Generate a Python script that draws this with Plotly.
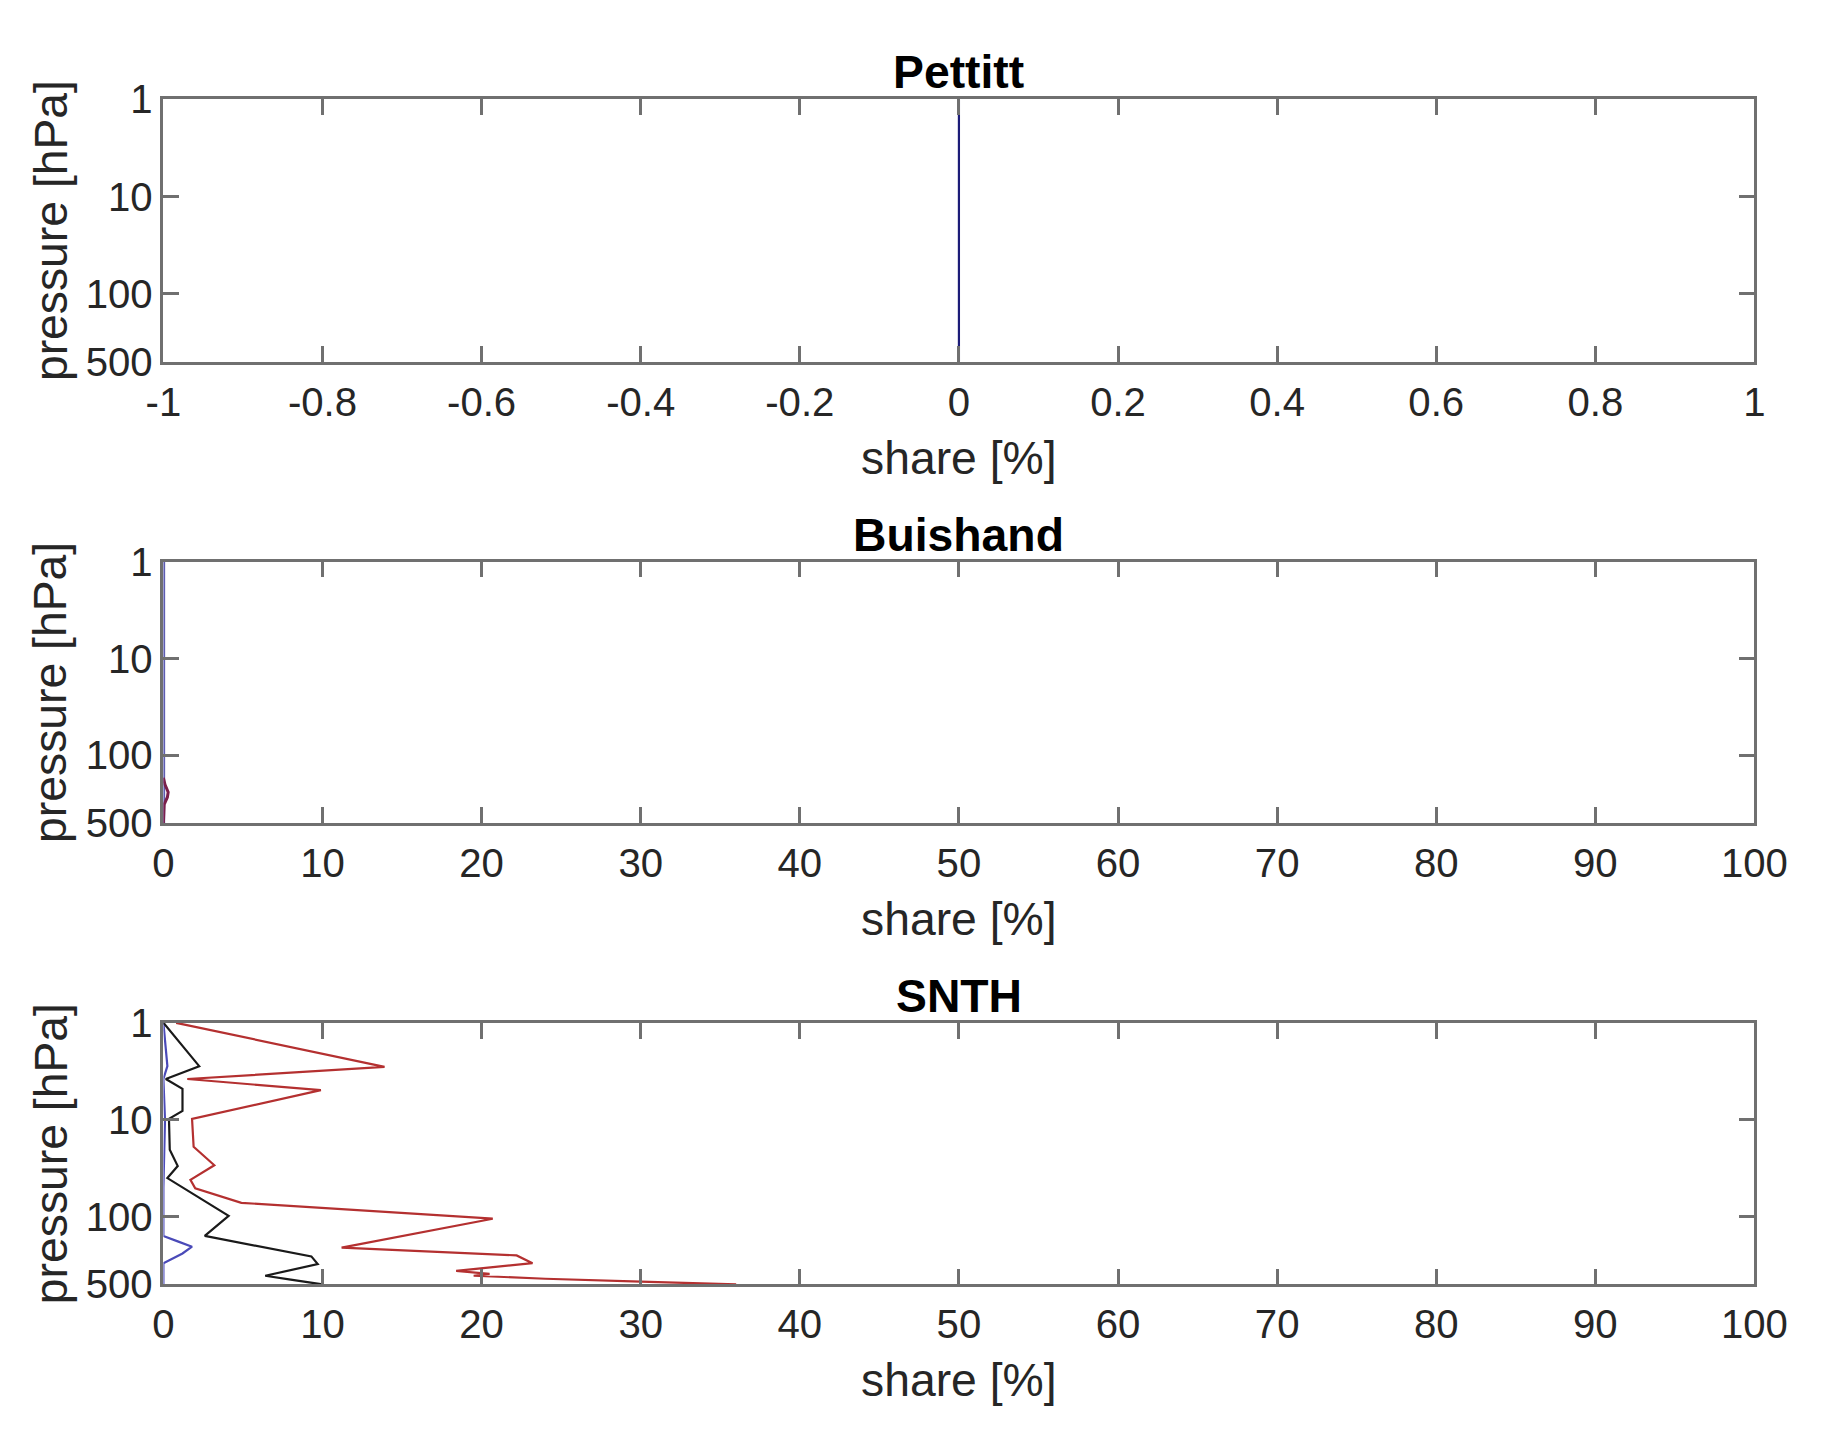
import plotly.graph_objects as go
import numpy as np

# ---------------- data ----------------
titles = ["Pettitt", "Buishand", "SNTH"]
x_label = "share [%]"
y_label = "pressure [hPa]"
y_tickvals = [1, 10, 100, 500]
y_ticktext = ["1", "10", "100", "500"]
x1_tickvals = [-1, -0.8, -0.6, -0.4, -0.2, 0, 0.2, 0.4, 0.6, 0.8, 1]
x1_ticktext = ["-1", "-0.8", "-0.6", "-0.4", "-0.2", "0", "0.2", "0.4", "0.6", "0.8", "1"]
x23_tickvals = [0, 10, 20, 30, 40, 50, 60, 70, 80, 90, 100]

# Pettitt
pett_p = [1, 500]
pett_share = [0, 0]

# Buishand
buis_blue_p = [1, 500]
buis_blue_share = [0, 0]
buis_red_p = [170, 200, 240, 270, 320, 500]
buis_red_share = [0, 0.1, 0.3, 0.25, 0.05, 0]

# SNTH
snth_red_p = [1, 2.85, 3.8, 4.95, 9.8, 19, 29.5, 41.7, 51, 72, 105, 209, 251, 302,
              363, 389, 407, 437, 468, 500]
snth_red_share = [0.8, 13.9, 1.5, 9.9, 1.8, 1.9, 3.2, 1.7, 2.0, 4.9, 20.7, 11.2, 22.2, 23.2,
                  18.4, 20.5, 19.5, 24.0, 30.0, 36.0]
snth_black_p = [1, 2.8, 3.8, 4.8, 8.1, 9.8, 20.4, 30, 40, 57.5, 98, 158, 257, 309,
                407, 447, 500]
snth_black_share = [0, 2.25, 0.15, 1.2, 1.2, 0.35, 0.4, 0.9, 0.25, 1.8, 4.1, 2.6, 9.3, 9.7,
                    6.4, 8.0, 10.0]
snth_blue_p = [1, 2.8, 3.8, 10, 50, 158, 180, 204, 240, 302, 500]
snth_blue_share = [0, 0.25, 0, 0.1, 0, 0, 0.9, 1.8, 1.2, 0, 0]

# ---------------- figure ----------------
W, H = 1824, 1433
# mapping from target picture pixels to figure pixels
AX_, BX_ = 1.0275, -25.1
AY_, BY_ = 1.0308, -29.5
S = 1.029

def px_x(P):
    return (AX_ * P + BX_) / W

def px_y(P):
    return 1 - (AY_ * P + BY_) / H

def fs(v):
    return v * S

fig = go.Figure()

left_px, right_px = 162, 1755
panels_px = [(98, 361), (561, 823), (1023, 1285)]

FONT = "Liberation Sans, Arial, Helvetica, sans-serif"
TXT = "#262626"
AX = "#707070"

xdom = [px_x(left_px), px_x(right_px)]

fig.add_trace(go.Scatter(x=pett_share, y=pett_p, mode="lines",
                         line=dict(color="#1c1c78", width=2.2), xaxis="x", yaxis="y",
                         showlegend=False))
fig.add_trace(go.Scatter(x=buis_blue_share, y=buis_blue_p, mode="lines",
                         line=dict(color="#5c5cb0", width=3.5), xaxis="x2", yaxis="y2",
                         showlegend=False))
fig.add_trace(go.Scatter(x=buis_red_share, y=buis_red_p, mode="lines",
                         line=dict(color="#7a1f4a", width=3), xaxis="x2", yaxis="y2",
                         showlegend=False))
fig.add_trace(go.Scatter(x=snth_blue_share, y=snth_blue_p, mode="lines",
                         line=dict(color="#4a4ab8", width=2.2), xaxis="x3", yaxis="y3",
                         showlegend=False))
fig.add_trace(go.Scatter(x=snth_black_share, y=snth_black_p, mode="lines",
                         line=dict(color="#1a1a1a", width=2.2), xaxis="x3", yaxis="y3",
                         showlegend=False))
fig.add_trace(go.Scatter(x=snth_red_share, y=snth_red_p, mode="lines",
                         line=dict(color="#b43030", width=2.2), xaxis="x3", yaxis="y3",
                         showlegend=False))

common_x = dict(showgrid=False, zeroline=False, showline=True, linecolor=AX, linewidth=2.5,
                mirror="allticks", ticks="inside", ticklen=16, tickwidth=2.5, tickcolor=AX,
                ticklabelstandoff=3,
                tickfont=dict(family=FONT, size=fs(39), color=TXT), domain=xdom,
                fixedrange=True)
common_y = dict(type="log", showgrid=False, zeroline=False, showline=True, linecolor=AX,
                linewidth=2.5, mirror="allticks", ticks="inside", ticklen=16, tickwidth=2.5,
                tickcolor=AX, tickfont=dict(family=FONT, size=fs(39), color=TXT),
                tickmode="array", tickvals=y_tickvals, ticktext=y_ticktext,
                range=[np.log10(500), 0], autorange=False, fixedrange=True)

layout = dict(width=W, height=H, paper_bgcolor="white", plot_bgcolor="white",
              margin=dict(l=0, r=0, t=0, b=0), showlegend=False)

for i in range(3):
    sx = "" if i == 0 else str(i + 1)
    top, bot = panels_px[i]
    xa = dict(common_x)
    if i == 0:
        xa.update(range=[-1, 1], tickmode="array", tickvals=x1_tickvals, ticktext=x1_ticktext)
    else:
        xa.update(range=[0, 100], tickmode="array", tickvals=x23_tickvals,
                  ticktext=[str(v) for v in x23_tickvals])
    xa.update(anchor="y" + sx)
    ya = dict(common_y)
    ya.update(domain=[px_y(bot), px_y(top)], anchor="x" + sx)
    layout["xaxis" + sx] = xa
    layout["yaxis" + sx] = ya

fig.update_layout(**layout)

annotations = []
cx = px_x((left_px + right_px) / 2)
for i in range(3):
    top, bot = panels_px[i]
    annotations.append(dict(text="<b>" + titles[i] + "</b>", x=cx, y=px_y(top - 27),
                            xref="paper", yref="paper", showarrow=False,
                            xanchor="center", yanchor="middle",
                            font=dict(family=FONT, size=fs(45), color="#000000")))
    annotations.append(dict(text=x_label, x=cx, y=px_y(bot + 96),
                            xref="paper", yref="paper", showarrow=False,
                            xanchor="center", yanchor="middle",
                            font=dict(family=FONT, size=fs(45), color=TXT)))
    annotations.append(dict(text=y_label, x=px_x(49), y=px_y((top + bot) / 2),
                            xref="paper", yref="paper", showarrow=False, textangle=-90,
                            xanchor="center", yanchor="middle",
                            font=dict(family=FONT, size=fs(45), color=TXT)))
fig.update_layout(annotations=annotations)

fig.write_html("out.html")
